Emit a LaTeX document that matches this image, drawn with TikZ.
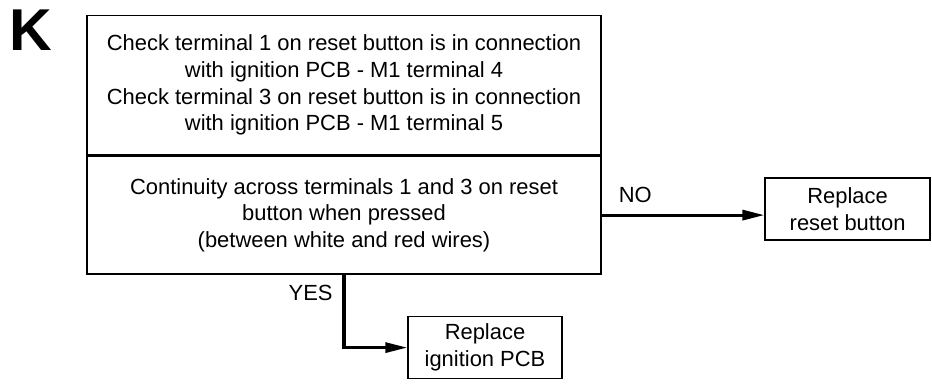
\documentclass[tikz,border=0pt]{standalone}
\usepackage{fontspec}
\setmainfont{Liberation Sans}
\usepackage{tikz}
\usetikzlibrary{arrows.meta,positioning,calc}

\begin{document}
\begin{tikzpicture}[
    font=\fontsize{15.6}{19}\selectfont,
    mainbox/.style={draw,line width=1pt,align=center,minimum width=12.85cm,inner sep=4pt},
    endbox/.style={draw,line width=1pt,align=center,minimum height=1.55cm,inner sep=3pt},
    lbl/.style={inner sep=0pt},
    arrow/.style={-{Triangle[length=5.5mm,width=2.5mm]},line width=2.2pt}
]
\useasboundingbox (0,0) rectangle (23.3,-9.7);
\node[lbl,anchor=north west,font=\fontsize{42}{42}\selectfont\bfseries] (step) at (0.22,-0.25) {K};
\node[mainbox,minimum height=3.475cm,anchor=north] (check) at (8.6,-0.375) {Check terminal 1 on reset button is in connection\\with ignition PCB - M1 terminal 4\\Check terminal 3 on reset button is in connection\\with ignition PCB - M1 terminal 5};
\node[mainbox,minimum height=2.95cm,below=0pt of check] (cont) {Continuity across terminals 1 and 3 on reset\\button when pressed\\(between white and red wires)};
\node[endbox,minimum width=4.125cm] (reset) at (21.19,-5.225) {Replace\\reset button};
\node[endbox,minimum width=3.85cm] (pcb) at (12.125,-8.69) {Replace\\ignition PCB};
\draw[arrow] (cont.east) -- (cont.east -| reset.west);
\draw[arrow] (cont.south) |- (pcb.west);
\node[lbl,anchor=base west] (no) at ($(cont.east)+(0.42,0.32)$) {NO};
\node[lbl,anchor=base east] (yes) at ($(cont.south)+(-0.28,-0.65)$) {YES};
\end{tikzpicture}
\end{document}
